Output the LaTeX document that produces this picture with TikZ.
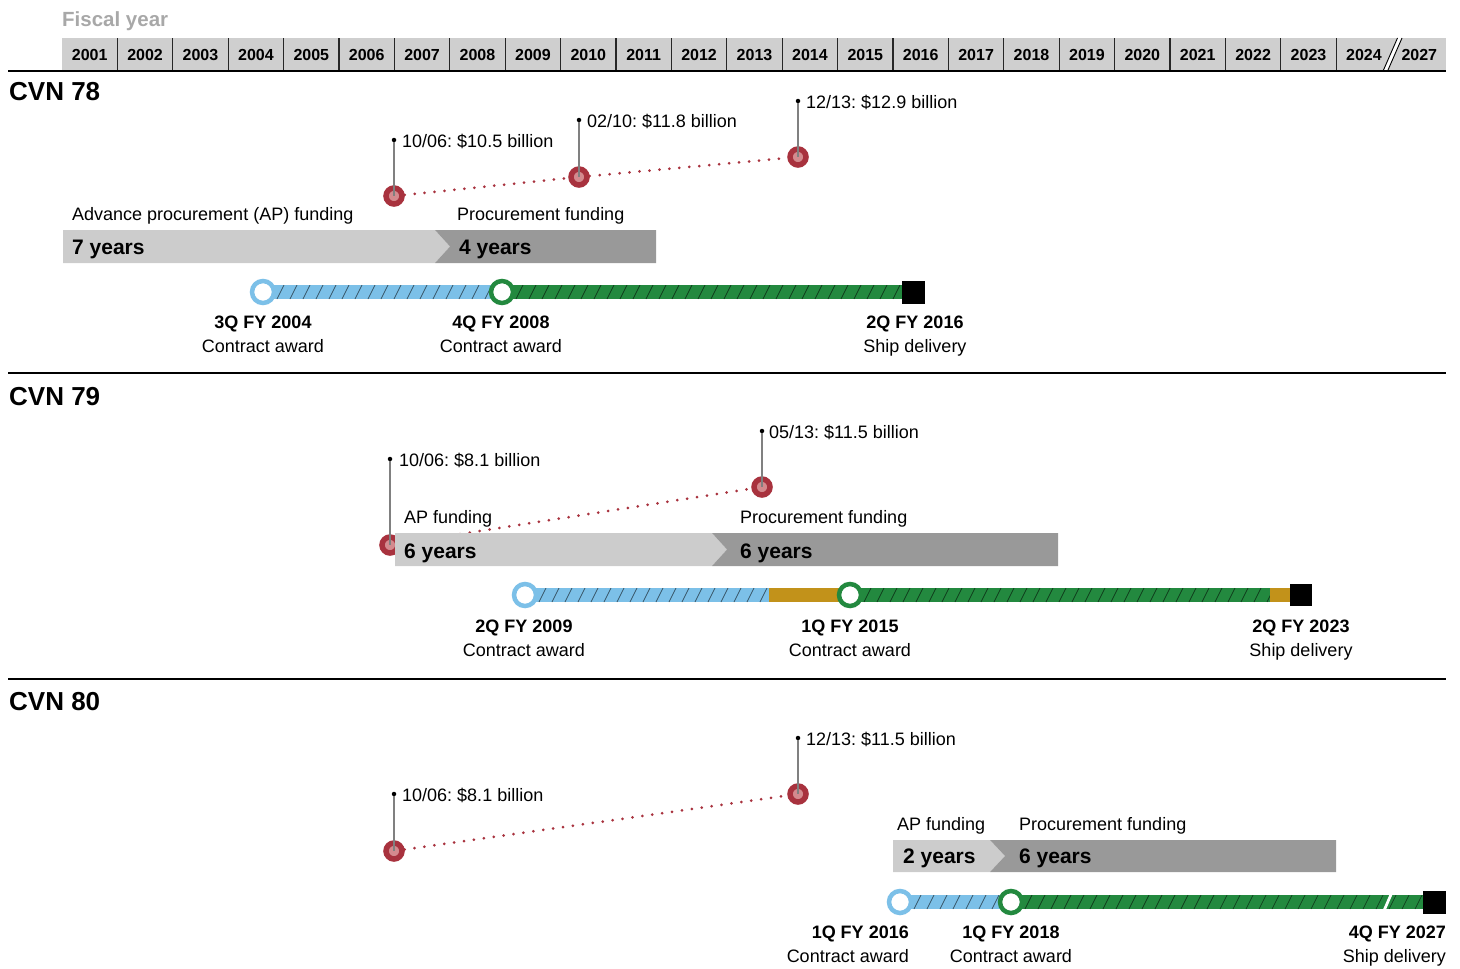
\documentclass[tikz,border=0pt]{standalone}
\usepackage{fontspec}
\setmainfont{Liberation Sans}
\usetikzlibrary{calc}
\frenchspacing
\definecolor{hdr}{HTML}{CFCFCF}
\definecolor{lgray}{HTML}{CCCCCC}
\definecolor{dgray}{HTML}{999999}
\definecolor{fygray}{HTML}{A8A8A8}
\definecolor{redring}{HTML}{A8323E}
\definecolor{redfill}{HTML}{D48A8E}
\definecolor{bluec}{HTML}{7CC0E8}
\definecolor{greenc}{HTML}{23893F}
\definecolor{goldc}{HTML}{C2921A}
\definecolor{pingray}{HTML}{808080}
\tikzset{
  lbl/.style={inner sep=0pt, anchor=base west, font=\fontsize{18}{18}\selectfont},
  lblb/.style={inner sep=0pt, anchor=base, font=\fontsize{18}{18}\selectfont\bfseries},
  lblc/.style={inner sep=0pt, anchor=base, font=\fontsize{18}{18}\selectfont},
  yrs/.style={inner sep=0pt, anchor=base west, font=\fontsize{21}{21}\selectfont\bfseries},
  shipname/.style={inner sep=0pt, anchor=base west, font=\fontsize{26}{26}\selectfont\bfseries},
  yearlbl/.style={inner sep=0pt, anchor=base, font=\fontsize{16}{16}\selectfont\bfseries},
  divider/.style={line width=1.3pt, black!85},
  sepline/.style={line width=1.2pt, black},
  reddot/.style={circle, draw=redring, fill=redfill, line width=5.5pt, minimum size=16pt, inner sep=0pt},
  pindot/.style={circle, fill=black, minimum size=4.5pt, inner sep=0pt},
  pinline/.style={pingray, line width=1.2pt},
  reddots/.style={redring, line width=3pt, line cap=round, dash pattern=on 0pt off 10pt},
  bluering/.style={circle, draw=bluec, fill=white, line width=4.5pt, minimum size=22pt, inner sep=0pt},
  greenring/.style={circle, draw=greenc, fill=white, line width=4.5pt, minimum size=22pt, inner sep=0pt},
  endsq/.style={rectangle, fill=black, minimum size=23pt, inner sep=0pt},
  hatchline/.style={black, opacity=0.55, line width=0.7pt},
}
\newcommand\hatchseg[4]{%
  \fill[#4] (#1,#3-7) rectangle (#2,#3+7);
  \begin{scope}
    \clip (#1,#3-7) rectangle (#2,#3+7);
    \pgfmathtruncatemacro\hsn{(#2-#1)/13+3}
    \foreach \k in {0,...,\hsn}{%
      \pgfmathsetmacro\hx{#1-12+13*\k}
      \draw[hatchline] (\hx,#3+7) -- (\hx+7,#3-7);
    }
  \end{scope}}
\begin{document}
\begin{tikzpicture}[x=1pt,y=-1pt]
\useasboundingbox (0,0) rectangle (1460,969);

% ---------- header ----------
\node[inner sep=0pt, anchor=base west, text=fygray, font=\fontsize{20.5}{20.5}\selectfont\bfseries] (fy) at (62,27) {Fiscal year};
\fill[hdr] (62,38) rectangle (1446,70);
\foreach \i in {1,...,23} \draw[divider] (62+55.4*\i,38) -- (62+55.4*\i,70);
\fill[white] (1383.5,70) -- (1397.5,38) -- (1402,38) -- (1388,70) -- cycle;
\draw[line width=0.9pt] (1383.5,70) -- (1397.5,38);
\draw[line width=0.9pt] (1388,70) -- (1402,38);
\foreach \i in {0,...,24}{%
  \pgfmathtruncatemacro\yr{\i<24 ? 2001+\i : 2027}
  \node[yearlbl] (yr\i) at (62+55.4*\i+27.7,60) {\yr};
}
\draw[line width=1.5pt] (8,71) -- (1446,71);
\draw[sepline] (8,373) -- (1446,373);
\draw[sepline] (8,679) -- (1446,679);

% ---------- CVN 78 ----------
\node[shipname] (n78) at (9,100) {CVN 78};
\node[reddot] (a1) at (394,196) {};
\node[reddot] (a2) at (579,177) {};
\node[reddot] (a3) at (798,157) {};
\draw[reddots] (a1) -- (a2);
\draw[reddots] (a2) -- (a3);
\node[pindot] (p1) at (394,140) {};
\node[pindot] (p2) at (579,120) {};
\node[pindot] (p3) at (798,101) {};
\draw[pinline] (p1) -- (a1.center);
\draw[pinline] (p2) -- (a2.center);
\draw[pinline] (p3) -- (a3.center);
\node[lbl] (la1) at (402,147) {10/06: \$10.5 billion};
\node[lbl] (la2) at (587,127) {02/10: \$11.8 billion};
\node[lbl] (la3) at (806,108) {12/13: \$12.9 billion};
\node[lbl] (ap78) at (72,220) {Advance procurement (AP) funding};
\node[lbl] (pf78) at (457,220) {Procurement funding};
\fill[lgray] (63,230) -- (435,230) -- (450,246.5) -- (435,263) -- (63,263) -- cycle;
\fill[dgray] (435,230) -- (656,230) -- (656,263) -- (435,263) -- (450,246.5) -- cycle;
\node[yrs] (y78a) at (72,254) {7 years};
\node[yrs] (y78b) at (459,254) {4 years};
\hatchseg{263}{502}{292}{bluec}
\hatchseg{502}{913}{292}{greenc}
\node[bluering] (c781) at (263,292) {};
\node[greenring] (c782) at (502,292) {};
\node[endsq] (s78) at (913,292) {};
\node[lblb] (t781) at (263,328) {3Q FY 2004};
\node[lblc] (u781) at (263,352) {Contract award};
\node[lblb] (t782) at (501,328) {4Q FY 2008};
\node[lblc] (u782) at (501,352) {Contract award};
\node[lblb] (t783) at (915,328) {2Q FY 2016};
\node[lblc] (u783) at (915,352) {Ship delivery};

% ---------- CVN 79 ----------
\node[shipname] (n79) at (9,405) {CVN 79};
\node[reddot] (b1) at (390,545) {};
\node[reddot] (b2) at (762,487) {};
\draw[reddots] (b1) -- (b2);
\node[pindot] (q1) at (390,459) {};
\node[pindot] (q2) at (762,431) {};
\draw[pinline] (q1) -- (b1.center);
\draw[pinline] (q2) -- (b2.center);
\node[lbl] (lb1) at (399,466) {10/06: \$8.1 billion};
\node[lbl] (lb2) at (769,438) {05/13: \$11.5 billion};
\node[lbl] (ap79) at (404,523) {AP funding};
\node[lbl] (pf79) at (740,523) {Procurement funding};
\fill[lgray] (395,533) -- (712,533) -- (727,549.5) -- (712,566) -- (395,566) -- cycle;
\fill[dgray] (712,533) -- (1058,533) -- (1058,566) -- (712,566) -- (727,549.5) -- cycle;
\node[yrs] (y79a) at (404,558) {6 years};
\node[yrs] (y79b) at (740,558) {6 years};
\hatchseg{525}{769}{595}{bluec}
\fill[goldc] (769,588) rectangle (850,602);
\hatchseg{850}{1270}{595}{greenc}
\fill[goldc] (1270,588) rectangle (1292,602);
\node[bluering] (c791) at (525,595) {};
\node[greenring] (c792) at (850,595) {};
\node[endsq, minimum size=22pt] (s79) at (1301,595) {};
\node[lblb] (t791) at (524,632) {2Q FY 2009};
\node[lblc] (u791) at (524,656) {Contract award};
\node[lblb] (t792) at (850,632) {1Q FY 2015};
\node[lblc] (u792) at (850,656) {Contract award};
\node[lblb] (t793) at (1301,632) {2Q FY 2023};
\node[lblc] (u793) at (1301,656) {Ship delivery};

% ---------- CVN 80 ----------
\node[shipname] (n80) at (9,710) {CVN 80};
\node[reddot] (d1) at (394,851) {};
\node[reddot] (d2) at (798,794) {};
\draw[reddots] (d1) -- (d2);
\node[pindot] (r1) at (394,794) {};
\node[pindot] (r2) at (798,738) {};
\draw[pinline] (r1) -- (d1.center);
\draw[pinline] (r2) -- (d2.center);
\node[lbl] (ld1) at (402,801) {10/06: \$8.1 billion};
\node[lbl] (ld2) at (806,745) {12/13: \$11.5 billion};
\node[lbl] (ap80) at (897,830) {AP funding};
\node[lbl] (pf80) at (1019,830) {Procurement funding};
\fill[lgray] (893,840) -- (990,840) -- (1005,856) -- (990,872) -- (893,872) -- cycle;
\fill[dgray] (990,840) -- (1336,840) -- (1336,872) -- (990,872) -- (1005,856) -- cycle;
\node[yrs] (y80a) at (903,863) {2 years};
\node[yrs] (y80b) at (1019,863) {6 years};
\hatchseg{900}{1011}{902}{bluec}
\hatchseg{1011}{1434}{902}{greenc}
\fill[white] (1383,909.5) -- (1389.5,894.5) -- (1392.5,894.5) -- (1386,909.5) -- cycle;
\node[bluering] (c801) at (900,902) {};
\node[greenring] (c802) at (1011,902) {};
\node[endsq] (s80) at (1434,902) {};
\node[lblb, anchor=base east] (t801) at (909,938) {1Q FY 2016};
\node[lblc, anchor=base east] (u801) at (909,962) {Contract award};
\node[lblb] (t802) at (1011,938) {1Q FY 2018};
\node[lblc] (u802) at (1011,962) {Contract award};
\node[lblb, anchor=base east] (t803) at (1446,938) {4Q FY 2027};
\node[lblc, anchor=base east] (u803) at (1446,962) {Ship delivery};
\end{tikzpicture}
\end{document}
